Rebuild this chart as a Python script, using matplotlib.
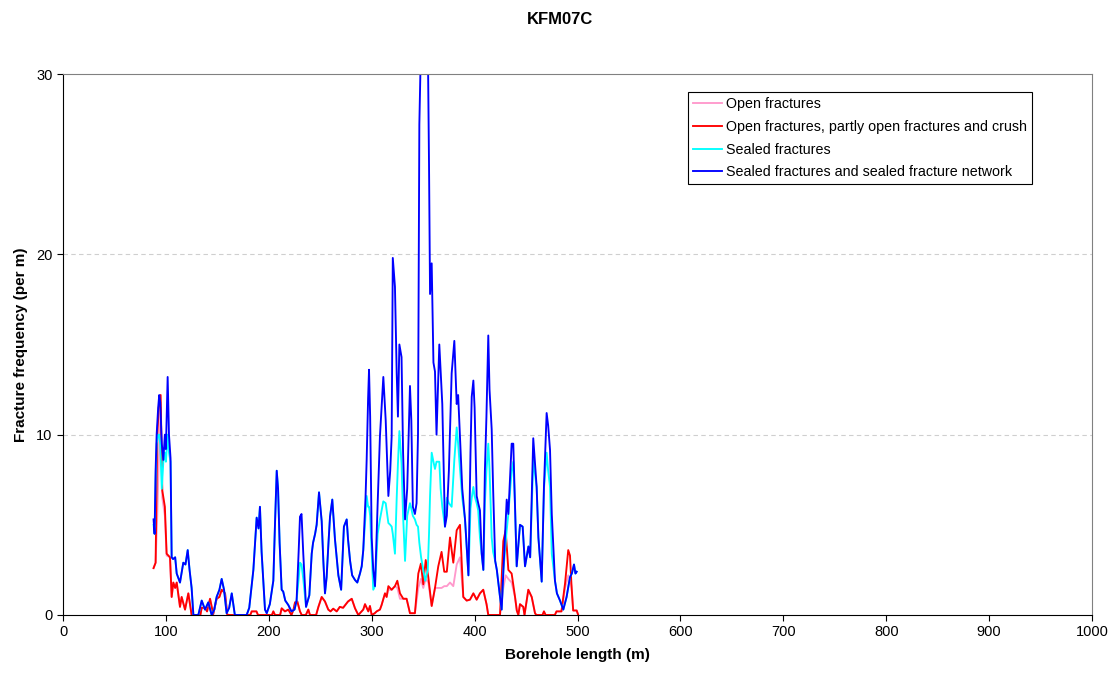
import matplotlib
matplotlib.use("Agg")
import matplotlib.pyplot as plt

plt.rcParams['font.family'] = ['Liberation Sans', 'DejaVu Sans']

# ---------------- data ----------------
title = "KFM07C"
series_names = ["Open fractures",
                "Open fractures, partly open fractures and crush",
                "Sealed fractures",
                "Sealed fractures and sealed fracture network"]

# grid shared by the sealed series
sealed_x = [88, 89, 90, 91, 92.5, 93.5, 94.5, 96, 97.5, 99, 100, 101.7, 103, 104.5,
            105.6, 107, 109, 110.5, 113.7, 116.9, 119, 121.2, 123, 125, 126.7, 131.5,
            134.8, 138, 141.2, 144.5, 147, 149.3, 152, 154.2, 156.5, 159, 161.5, 164,
            167, 178.5, 181, 185, 188.2, 190, 191.4, 193, 196.3, 198, 201, 204.4, 206,
            207.7, 209, 210.5, 212.5, 214, 216, 219, 222, 225, 227, 229, 230.3, 231.8,
            233.5, 236.2, 239.4, 241.7, 243, 245, 246.5, 248.8, 251.4, 253, 254.6,
            256.2, 258, 259.5, 261.7, 264.3, 267.6, 270.3, 273, 275.7, 277, 279, 281,
            283.8, 286, 288.6, 290.3, 291.8, 294, 295.1, 296.5, 297.4, 298.5, 300,
            301.5, 303.2, 305.8, 308, 311.3, 313.6, 316.2, 318, 319.4, 320.5, 322.6,
            324.3, 325.5, 326.9, 329, 330.5, 332.4, 334.5, 337.2, 338.5, 340, 342,
            343.6, 345, 346.3, 348, 352, 354.5, 355.7, 356.7, 358.3, 360, 361.5, 363,
            365.7, 367, 368.6, 371.2, 373, 375, 377.7, 380.3, 382.6, 384, 385.8, 388,
            390.7, 394, 396, 397.2, 398.8, 400, 402, 403.5, 405.2, 406.9, 408.5, 410,
            411.5, 413.3, 414.5, 416.6, 418, 420, 421.6, 424.7, 426.3, 428, 431.2,
            432.8, 436, 437.6, 439.3, 440.9, 444.1, 446.7, 449, 452.3, 454, 457, 460.3,
            462, 465.2, 467.4, 470, 471.5, 473.3, 475, 478.1, 480, 483, 486.2, 489.4,
            492.7, 494.5, 496.6, 498, 499.2]

sealed_network = [5.3, 4.5, 8.0, 10.0, 11.5, 12.2, 11.8, 9.5, 8.6, 10.0, 9.2, 13.2, 10.0, 8.7,
                  3.2, 3.1, 3.2, 2.3, 1.8, 2.9, 2.8, 3.6, 2.5, 1.5, 0.0, 0.0,
                  0.8, 0.3, 0.7, 0.0, 0.3, 1.0, 1.4, 2.0, 1.4, 0.1, 0.4, 1.2,
                  0.0, 0.0, 0.4, 2.5, 5.4, 4.8, 6.0, 3.5, 0.3, 0.1, 0.6, 1.9, 5.0,
                  8.0, 7.0, 4.0, 1.4, 1.3, 0.8, 0.55, 0.2, 0.3, 0.8, 3.5, 5.45, 5.6,
                  3.4, 0.45, 1.1, 3.4, 4.0, 4.5, 5.0, 6.8, 5.2, 3.0, 1.2,
                  2.1, 4.0, 5.45, 6.4, 4.2, 2.2, 1.4, 4.9, 5.3, 4.2, 3.0, 2.2,
                  1.94, 1.8, 2.3, 2.7, 3.6, 6.5, 8.6, 12.0, 13.6, 11.0, 4.3,
                  2.5, 1.6, 6.2, 9.9, 13.2, 10.8, 6.6, 8.0, 9.9, 19.8, 18.2,
                  13.4, 11.0, 15.0, 14.3, 9.0, 5.3, 7.0, 12.7, 10.8, 6.0, 5.6,
                  6.2, 10.0, 27.2, 32.0, 32.0, 32.0, 25.0, 17.8, 19.5, 14.0, 13.5, 10.0,
                  15.0, 13.5, 11.7, 4.9, 5.5, 8.0, 13.4, 15.2, 11.7, 12.2, 9.9, 7.0,
                  5.3, 2.2, 9.0, 12.1, 13.0, 11.5, 6.6, 6.2, 5.8, 3.4, 2.5, 8.0,
                  11.0, 15.5, 12.5, 10.3, 7.0, 3.0, 2.5, 1.0, 0.3, 2.5, 6.4,
                  5.6, 9.5, 9.5, 6.0, 2.7, 5.0, 4.9, 2.7, 3.8, 3.2, 9.8, 7.1,
                  4.3, 1.85, 7.1, 11.2, 10.5, 9.15, 5.6, 1.9, 1.2, 0.8, 0.3, 1.0,
                  2.1, 2.3, 2.8, 2.3, 2.4]

sealed = [5.0, 4.5, 7.5, 9.5, 10.0, 10.0, 9.5, 7.0, 8.5, 9.0, 8.5, 10.0, 9.0, 8.5,
          3.2, 3.1, 3.2, 2.3, 1.8, 2.9, 2.8, 3.6, 2.5, 1.5, 0.0, 0.0,
          0.8, 0.3, 0.7, 0.0, 0.3, 1.0, 1.4, 2.0, 1.4, 0.1, 0.4, 1.2,
          0.0, 0.0, 0.4, 2.5, 5.4, 4.8, 6.0, 3.5, 0.3, 0.1, 0.6, 1.9, 5.0,
          8.0, 7.0, 4.0, 1.4, 1.3, 0.8, 0.55, 0.2, 0.3, 0.8, 2.0, 2.9, 2.8,
          2.0, 0.45, 1.1, 3.4, 4.0, 4.5, 5.0, 6.8, 5.2, 3.0, 1.2,
          2.1, 4.0, 5.45, 6.4, 4.2, 2.2, 1.4, 4.9, 5.3, 4.2, 3.0, 2.2,
          1.94, 1.8, 2.3, 2.7, 3.6, 5.5, 6.6, 6.0, 6.0, 5.5, 3.5,
          1.4, 1.6, 4.5, 5.3, 6.3, 6.2, 5.1, 5.0, 4.9, 4.5, 3.4,
          6.5, 8.4, 10.2, 8.4, 5.5, 3.0, 5.5, 6.2, 5.9, 5.5, 5.3,
          5.0, 4.9, 4.0, 3.2, 1.9, 2.5, 4.5, 6.6, 9.0, 8.5, 8.1, 8.5,
          8.5, 7.0, 6.0, 4.9, 6.5, 6.2, 6.0, 8.6, 10.4, 9.5, 8.1, 6.5,
          5.3, 2.2, 5.9, 6.5, 7.1, 6.6, 6.2, 5.8, 4.3, 3.4, 2.5, 6.2,
          8.0, 9.5, 8.1, 4.3, 3.5, 3.0, 2.5, 1.0, 0.3, 2.5, 4.7,
          5.6, 8.0, 8.5, 6.0, 2.7, 5.0, 4.9, 2.7, 3.8, 3.2, 8.6, 7.1,
          4.3, 1.85, 7.0, 9.0, 8.0, 7.1, 3.4, 1.9, 1.2, 0.8, 0.3, 1.0,
          2.1, 2.3, 2.8, 2.3, 2.4]

# grid shared by the open series
open_x = [88, 90, 91.6, 93, 94.9, 96.5, 99, 100.7, 104, 105.6, 107.2, 109, 110.5, 113.7,
          115.3, 118.6, 121.8, 125, 133.5, 134.8, 138, 140, 142.9, 146, 149.3, 152,
          154.2, 157.5, 159.7, 182, 183.4, 188, 189.5, 203, 204.4, 206, 211, 212.5,
          215.7, 219, 222, 224, 225.5, 227.7, 230.3, 232, 236, 238.4, 240, 246, 248.2,
          251.4, 254.6, 257.8, 260, 262.6, 266, 269, 272.2, 275, 277, 280.6, 283.8,
          287, 291.8, 293.5, 296.7, 298.3, 300, 303, 304.8, 308, 309.6, 312.9, 314.5,
          316.2, 319.4, 322.6, 324.9, 327.5, 330.7, 333.9, 337.2, 342, 345.3, 347.8,
          350.1, 352.5, 355, 358.3, 361.5, 364.7, 367.9, 370.5, 373, 376.1, 379.3,
          382.6, 385.8, 389, 392.3, 395.5, 398.8, 402, 405.2, 408.4, 411.6, 413.3,
          424.7, 427.9, 430.2, 432.8, 436, 439.3, 441, 442.5, 444.1, 447.3, 448.5,
          452.2, 455.5, 458.7, 460, 466, 467.4, 469, 478, 479.6, 484.4, 487.9, 491,
          492.7, 494.2, 495.8, 499.2, 500.7]

open_partly_crush = [2.6, 2.9, 9.9, 11.5, 12.2, 6.9, 6.0, 3.4, 3.2, 1.0, 1.8, 1.5, 1.8, 0.45,
                     1.0, 0.3, 1.2, 0.0, 0.0, 0.4, 0.4, 0.2, 0.9, 0.05, 0.9, 1.0,
                     1.4, 1.2, 0.0, 0.0, 0.2, 0.2, 0.0, 0.0, 0.2, 0.0, 0.0, 0.37,
                     0.2, 0.3, 0.0, 0.3, 0.7, 0.75, 0.2, 0.0, 0.0, 0.3, 0.0, 0.0, 0.45,
                     1.0, 0.75, 0.3, 0.2, 0.35, 0.2, 0.45, 0.4, 0.6, 0.75, 0.9, 0.37,
                     0.0, 0.3, 0.6, 0.2, 0.5, 0.0, 0.1, 0.2, 0.3, 0.55, 1.2, 1.0,
                     1.6, 1.4, 1.6, 1.9, 1.2, 0.9, 0.9, 0.1, 0.1, 2.3, 2.85,
                     1.7, 3.05, 2.1, 0.5, 1.5, 2.7, 3.5, 2.4, 2.4, 4.3, 2.9,
                     4.7, 5.0, 1.0, 0.8, 0.85, 1.2, 0.85, 1.2, 1.4, 0.6, 0.0,
                     0.0, 4.1, 4.7, 2.5, 2.3, 1.0, 0.25, 0.0, 0.6, 0.45, 0.0,
                     1.4, 1.0, 0.1, 0.0, 0.0, 0.2, 0.0, 0.0, 0.2, 0.2, 1.75, 3.6,
                     3.3, 1.6, 0.25, 0.25, 0.0]

open_only = [2.6, 2.9, 5.5, 8.5, 11.5, 6.5, 5.5, 3.3, 3.2, 1.0, 1.8, 1.5, 1.8, 0.45,
             1.0, 0.3, 1.2, 0.0, 0.0, 0.4, 0.4, 0.2, 0.9, 0.05, 0.9, 1.0,
             1.4, 1.2, 0.0, 0.0, 0.2, 0.2, 0.0, 0.0, 0.2, 0.0, 0.0, 0.37,
             0.2, 0.3, 0.0, 0.3, 0.7, 0.75, 0.2, 0.0, 0.0, 0.3, 0.0, 0.0, 0.45,
             1.0, 0.75, 0.3, 0.2, 0.35, 0.2, 0.45, 0.4, 0.6, 0.75, 0.9, 0.37,
             0.0, 0.3, 0.6, 0.2, 0.5, 0.0, 0.1, 0.2, 0.3, 0.55, 1.2, 1.0,
             1.4, 1.4, 1.6, 1.5, 0.9, 0.9, 0.9, 0.1, 0.1, 1.5, 2.0,
             1.5, 2.0, 1.8, 0.5, 1.5, 1.5, 1.5, 1.6, 1.6, 1.8, 1.6,
             2.8, 3.2, 1.0, 0.8, 0.85, 1.2, 0.85, 1.2, 1.4, 0.6, 0.0,
             0.0, 1.5, 2.2, 2.0, 1.8, 1.0, 0.25, 0.0, 0.6, 0.45, 0.0,
             1.4, 1.0, 0.1, 0.0, 0.0, 0.2, 0.0, 0.0, 0.2, 0.2, 1.5, 2.2,
             2.0, 1.6, 0.25, 0.25, 0.0]

x_ticks = list(range(0, 1001, 100))
y_ticks = [0, 10, 20, 30]
colors = ["#FF99CC", "#FF0000", "#00FFFF", "#0000FF"]

# ---------------- plot ----------------
fig = plt.figure(figsize=(11.19, 6.8), dpi=100)
ax = fig.add_axes([63 / 1119, 65 / 680, 1029 / 1119, 541 / 680])

lw = 1.35
ax.plot(open_x, open_only, color=colors[0], lw=lw, label=series_names[0])
ax.plot(open_x, open_partly_crush, color=colors[1], lw=lw, label=series_names[1])
ax.plot(sealed_x, sealed, color=colors[2], lw=lw, label=series_names[2])
ax.plot(sealed_x, sealed_network, color=colors[3], lw=lw, label=series_names[3])

ax.set_xlim(0, 1000)
ax.set_ylim(0, 30)
ax.set_xticks(x_ticks)
ax.set_yticks(y_ticks)
ax.tick_params(axis='both', direction='out', length=4, labelsize=10.5, width=0.8)
for yv in y_ticks[1:-1]:
    ax.axhline(yv, linestyle=(0, (4, 3)), color='#CFCFCF', linewidth=0.8, zorder=0)
for s in ['top', 'right']:
    ax.spines[s].set_color('#808080')
for s in ['left', 'bottom']:
    ax.spines[s].set_color('black')

ax.set_xlabel("Borehole length (m)", fontsize=11, fontweight='bold', labelpad=6)
ax.set_ylabel("Fracture frequency (per m)", fontsize=11, fontweight='bold', labelpad=6)
fig.text(0.5, 1 - 20 / 680, title, ha='center', va='center', fontsize=12, fontweight='bold')

leg = ax.legend(loc='upper right', bbox_to_anchor=(0.942, 0.967), fontsize=10.3,
                frameon=True, fancybox=False, edgecolor='black', framealpha=1,
                handlelength=2.0, handletextpad=0.3, borderpad=0.35, labelspacing=0.62,
                borderaxespad=0)
leg.get_frame().set_linewidth(0.8)

fig.savefig("out.png", dpi=100)
